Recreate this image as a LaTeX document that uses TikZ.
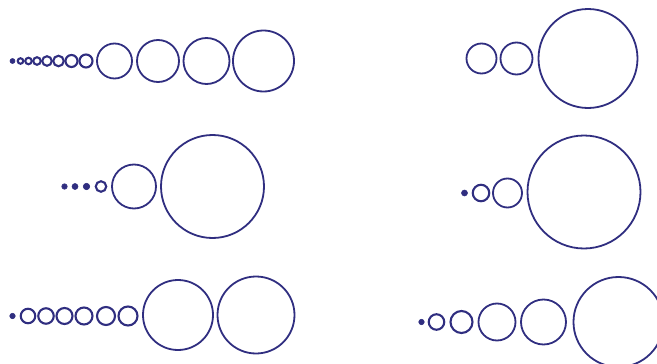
\documentclass[tikz,border=0pt]{standalone}
\definecolor{navy}{RGB}{48,46,128}
\tikzset{
  ring/.style={circle,draw=navy,line width=1.8pt,inner sep=0pt,minimum size=#1},
  sring/.style={circle,draw=navy,line width=2.1pt,inner sep=0pt,minimum size=#1},
  dot/.style={circle,fill=navy,draw=navy,line width=0.6pt,inner sep=0pt,minimum size=#1}
}
\begin{document}
\begin{tikzpicture}[x=1pt,y=-1pt]
\useasboundingbox (0,0) rectangle (657,364);
\begin{scope}
\clip (0,0) rectangle (657,364);
% Row 1 left
\node[dot=5pt]  (a1) at (12.5,61) {};
\node[sring=5.5pt] (a2) at (20.5,61) {};
\node[sring=6.5pt] (a3) at (28.5,61) {};
\node[sring=7.5pt] (a4) at (37,61) {};
\node[sring=9.5pt] (a5) at (47,61) {};
\node[sring=10.5pt] (a6) at (58.5,61) {};
\node[sring=12pt] (a7) at (71.5,61) {};
\node[sring=13pt] (a8) at (86,61) {};
\node[ring=35pt] (a9) at (114.5,61) {};
\node[ring=42pt] (a10) at (158,61) {};
\node[ring=46pt] (a11) at (206.5,61) {};
\node[ring=61pt] (a12) at (263.5,61) {};
% Row 2 left
\node[dot=5.5pt] (b1) at (64.5,186.5) {};
\node[dot=6pt] (b2) at (75,186.5) {};
\node[dot=6.5pt] (b3) at (86.5,186.5) {};
\node[sring=10.5pt] (b4) at (101,186.5) {};
\node[ring=44pt] (b5) at (134,186.5) {};
\node[ring=103pt] (b6) at (212.5,186.5) {};
% Row 3 left
\node[dot=5.5pt] (c1) at (12.5,316) {};
\node[sring=14.5pt] (c2) at (28,316) {};
\node[sring=15.5pt] (c3) at (46,316) {};
\node[sring=16pt] (c4) at (64.5,316) {};
\node[sring=17pt] (c5) at (84,316) {};
\node[sring=18pt] (c6) at (106,316) {};
\node[sring=19pt] (c7) at (128,316) {};
\node[ring=70pt] (c8) at (178,315) {};
\node[ring=77pt] (c9) at (256,315) {};
% Row 1 right
\node[ring=30pt] (d1) at (481.5,58.5) {};
\node[ring=32pt] (d2) at (516.5,58.5) {};
\node[ring=99pt] (d3) at (588,58.5) {};
% Row 2 right
\node[dot=6pt] (e1) at (464.5,193) {};
\node[sring=16.5pt] (e2) at (481,193) {};
\node[ring=29pt] (e3) at (507.5,193) {};
\node[ring=113pt] (e4) at (584,192) {};
% Row 3 right
\node[dot=5.5pt] (f1) at (421.5,322) {};
\node[sring=15.5pt] (f2) at (436.5,322) {};
\node[sring=22pt] (f3) at (461.5,322) {};
\node[ring=37pt] (f4) at (497,322) {};
\node[ring=45pt] (f5) at (543.5,322) {};
\node[ring=90pt] (f6) at (618.5,322) {};
\end{scope}
\end{tikzpicture}
\end{document}
